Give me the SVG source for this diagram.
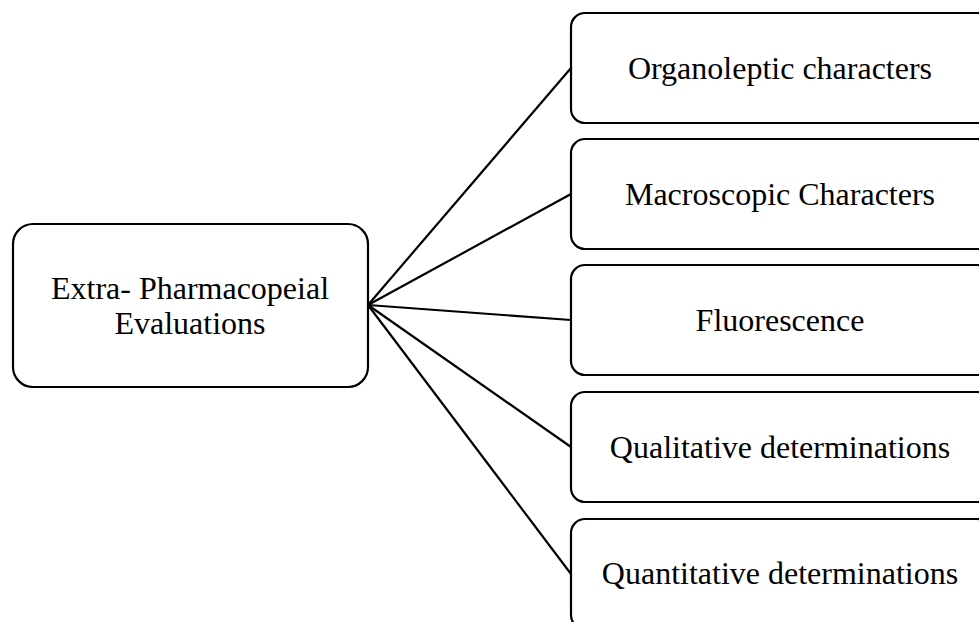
<svg xmlns="http://www.w3.org/2000/svg" width="979" height="622" viewBox="0 0 979 622">
<style>
.box{fill:#fff;stroke:#000;stroke-width:2.2}
.t{font-family:"Liberation Serif","Times New Roman",serif;font-size:32px;fill:#000;text-anchor:middle}
.c{stroke:#000;stroke-width:2.2;fill:none}
</style>
<rect width="979" height="622" fill="#fff"/>
<g id="connectors">
<line class="c" x1="368" y1="305" x2="571" y2="68"/>
<line class="c" x1="368" y1="305" x2="571" y2="194"/>
<line class="c" x1="368" y1="305" x2="571" y2="320"/>
<line class="c" x1="368" y1="305" x2="571" y2="447"/>
<line class="c" x1="368" y1="305" x2="571" y2="574"/>
</g>
<g id="root">
<rect class="box" x="13" y="224" width="355" height="163" rx="20"/>
<text class="t" x="190" y="299">Extra- Pharmacopeial</text>
<text class="t" x="190" y="334">Evaluations</text>
</g>
<g id="n1">
<rect class="box" x="571" y="13" width="420" height="110" rx="14"/>
<text class="t" x="780" y="79">Organoleptic characters</text>
</g>
<g id="n2">
<rect class="box" x="571" y="139" width="420" height="110" rx="14"/>
<text class="t" x="780" y="205">Macroscopic Characters</text>
</g>
<g id="n3">
<rect class="box" x="571" y="265" width="420" height="110" rx="14"/>
<text class="t" x="780" y="331">Fluorescence</text>
</g>
<g id="n4">
<rect class="box" x="571" y="392" width="420" height="110" rx="14"/>
<text class="t" x="780" y="458">Qualitative determinations</text>
</g>
<g id="n5">
<rect class="box" x="571" y="519" width="420" height="110" rx="14"/>
<text class="t" x="780" y="584">Quantitative determinations</text>
</g>
</svg>
